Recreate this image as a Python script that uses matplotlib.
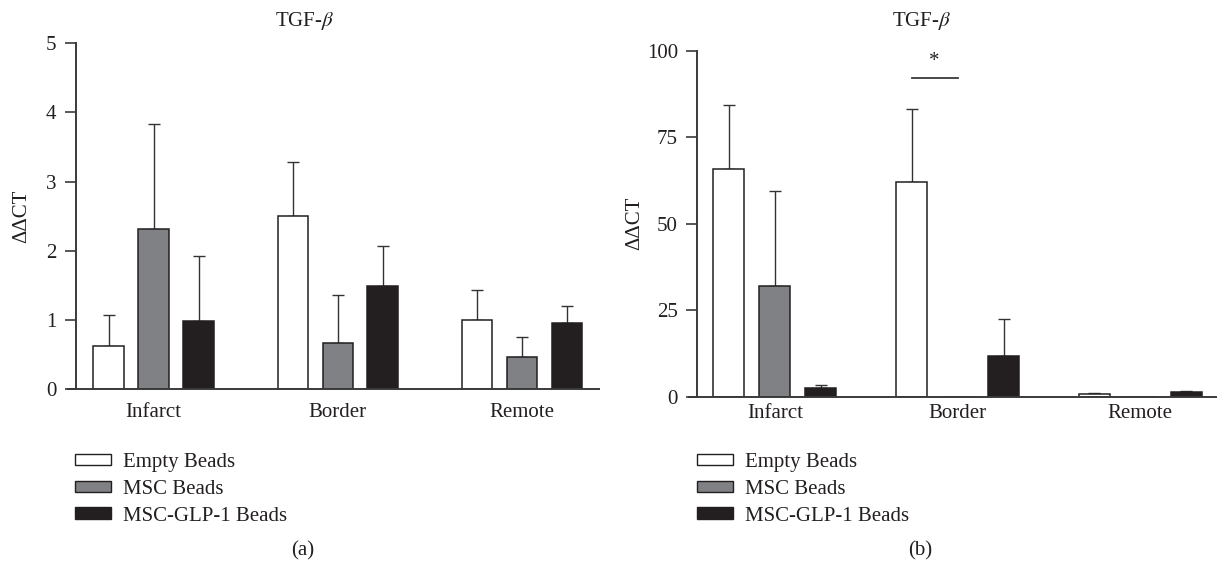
import numpy as np
import matplotlib
matplotlib.use("Agg")
import matplotlib.pyplot as plt
from matplotlib.patches import Patch

plt.rcParams['font.family'] = ['Liberation Serif', 'DejaVu Serif']
plt.rcParams['mathtext.fontset'] = 'stix'

# data
regions = ['Infarct', 'Border', 'Remote']
groups = ['Empty Beads', 'MSC Beads', 'MSC-GLP-1 Beads']

# panel (a)
a_empty = [0.62, 2.51, 1.00]
a_empty_err = [0.46, 0.78, 0.44]
a_msc = [2.31, 0.665, 0.47]
a_msc_err = [1.53, 0.70, 0.28]
a_glp = [0.98, 1.49, 0.96]
a_glp_err = [0.95, 0.58, 0.24]

# panel (b)
b_empty = [65.7, 62.1, 0.8]
b_empty_err = [18.6, 21.1, 0.2]
b_msc = [32.0, 0.0, 0.0]
b_msc_err = [27.4, 0.0, 0.0]
b_glp = [2.4, 11.75, 1.35]
b_glp_err = [1.0, 10.8, 0.25]

colors = ['white', '#808184', '#231f20']
ink = '#231f20'
fs = 15
W, H = 1218, 562

fig = plt.figure(figsize=(W / 100, H / 100), dpi=100)


def px_axes(x0, x1, ytop, ybot):
    return fig.add_axes([x0 / W, 1 - ybot / H, (x1 - x0) / W, (ybot - ytop) / H])


def panel(ax, vals, errs, xlim, spine_x, width, offset, ymax, yticks, xpad):
    x = np.arange(len(regions))
    for k, (v, e) in enumerate(zip(vals, errs)):
        xs = x + (k - 1) * offset
        ax.bar(xs, v, width=width, color=colors[k], edgecolor=ink, linewidth=1.1, zorder=2)
        show = np.array(e) > 0
        ax.errorbar(xs[show], np.array(v)[show], yerr=[np.zeros(show.sum()), np.array(e)[show]],
                    fmt='none', ecolor='#333333', elinewidth=1.0, capsize=4, capthick=1.0, zorder=1)
    ax.set_xlim(*xlim)
    ax.set_ylim(0, ymax)
    ax.set_yticks(yticks)
    ax.set_xticks(x)
    ax.set_xticklabels(regions)
    ax.spines['top'].set_visible(False)
    ax.spines['right'].set_visible(False)
    ax.spines['left'].set_position(('data', spine_x))
    for s in ('left', 'bottom'):
        ax.spines[s].set_color('#3a3a3a')
        ax.spines[s].set_linewidth(1.4)
    ax.tick_params(axis='y', length=8, width=1.2, color='#3a3a3a', pad=6,
                   labelsize=fs, labelcolor=ink)
    ax.tick_params(axis='x', length=0, pad=xpad, labelsize=fs, labelcolor=ink)
    ax.set_ylabel('ΔΔCT', fontsize=fs, color=ink)


handles = [Patch(facecolor=c, edgecolor=ink, linewidth=1.0) for c in colors]

# (a)
ax1 = px_axes(68, 599, 43.3, 389.3)
panel(ax1, [a_empty, a_msc, a_glp], [a_empty_err, a_msc_err, a_glp_err],
      (-0.4647, 2.418), -0.421, 0.166, 0.244, 5, [0, 1, 2, 3, 4, 5], 10)
ax1.yaxis.set_label_coords(-0.07, 0.5)

# (b)
ax2 = px_axes(689, 1216, 50.7, 396.7)
panel(ax2, [b_empty, b_msc, b_glp], [b_empty_err, b_msc_err, b_glp_err],
      (-0.471, 2.416), -0.4247, 0.17, 0.252, 100, [0, 25, 50, 75, 100], 5)
ax2.yaxis.set_label_coords(-0.084, 0.5)

# significance bar between Empty and MSC at Border
ax2.plot([1 - 0.252, 1.0], [92.2, 92.2], color='#3a3a3a', lw=1.3, clip_on=False)
ax2.text(1 - 0.126, 94.0, '*', ha='center', va='bottom', fontsize=fs, color=ink)

for cx, title, lab, lx in [(305, 'TGF-$\\beta$', '(a)', 75), (922, 'TGF-$\\beta$', '(b)', 697)]:
    fig.text(cx / W, 1 - 21 / H, title, ha='center', va='center', fontsize=fs, color=ink)
    fig.text((cx - 2) / W, 1 - 551 / H, lab, ha='center', va='center', fontsize=fs, color=ink)
    fig.legend(handles, groups, loc='upper left', bbox_to_anchor=(lx / W, 1 - 453 / H),
               frameon=False, fontsize=fs, handlelength=1.73, handleheight=0.48,
               handletextpad=0.58, labelspacing=0.375, borderpad=0, borderaxespad=0,
               labelcolor=ink)

fig.savefig('out.png', dpi=100)
